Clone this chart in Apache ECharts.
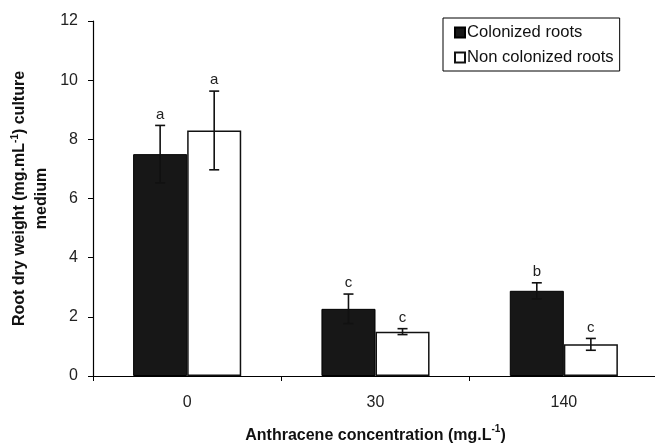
<!DOCTYPE html>
<html>
<head>
<meta charset="utf-8">
<script src="https://cdn.jsdelivr.net/npm/echarts@6/dist/echarts.min.js"></script>
<style>html,body{margin:0;padding:0;background:#fff;}#c{width:655px;height:443px;}</style>
</head>
<body>
<div id="c"></div>
<script>
const categories = ['0', '30', '140'];
const colonized = [7.5, 2.27, 2.88];
const nonColonized = [8.3, 1.5, 1.07];
const colonizedErr = [0.97, 0.5, 0.27];
const nonColonizedErr = [1.33, 0.1, 0.2];
const colonizedLetters = ['a', 'c', 'b'];
const nonColonizedLetters = ['a', 'c', 'c'];
const yTicks = [0, 2, 4, 6, 8, 10, 12];

const FONT = '"Liberation Sans", Arial, Helvetica, sans-serif';
const BAR_FRAC = 0.287;

function errSeries(values, errs, letters, side) {
  return {
    type: 'custom',
    z: 5,
    silent: true,
    encode: { x: 0, y: 1 },
    data: values.map((v, i) => [i, v, errs[i]]),
    renderItem: function (params, api) {
      const idx = api.value(0);
      const v = api.value(1);
      const e = api.value(2);
      const letter = letters[idx];
      const bw = api.size([1, 0])[0] * BAR_FRAC;
      const cx = api.coord([idx, v])[0] + side * bw / 2;
      const yTop = api.coord([idx, v + e])[1];
      const yBot = api.coord([idx, v - e])[1];
      const cap = 5;
      const st = { stroke: '#111', lineWidth: 1.6 };
      return {
        type: 'group',
        children: [
          { type: 'line', shape: { x1: cx, y1: yTop, x2: cx, y2: yBot }, style: st },
          { type: 'line', shape: { x1: cx - cap, y1: yTop, x2: cx + cap, y2: yTop }, style: st },
          { type: 'line', shape: { x1: cx - cap, y1: yBot, x2: cx + cap, y2: yBot }, style: st },
          { type: 'text', style: { text: letter, x: cx, y: yTop - 11, align: 'center', verticalAlign: 'middle', font: '15px ' + FONT, fill: '#222' } }
        ]
      };
    }
  };
}

const chart = echarts.init(document.getElementById('c'), null, { renderer: 'canvas' });
chart.setOption({
  animation: false,
  backgroundColor: '#fff',
  textStyle: { fontFamily: FONT },
  grid: { left: 93, right: -3, top: 21, bottom: 67, containLabel: false, outerBoundsMode: 'none' },
  legend: {
    left: 443, top: 18, orient: 'vertical',
    data: ['Colonized roots', 'Non colonized roots'],
    icon: 'rect', itemWidth: 10, itemHeight: 10, itemGap: 8,
    padding: [6, 6, 5, 11],
    borderColor: '#000', borderWidth: 1, backgroundColor: '#fff',
    textStyle: { fontFamily: FONT, fontSize: 16.6, color: '#111', lineHeight: 17, padding: [0, 0, 0, -3] }
  },
  xAxis: {
    type: 'category',
    data: categories,
    axisLine: { lineStyle: { color: '#000', width: 1.2 } },
    axisTick: { show: true, length: 5, lineStyle: { color: '#000' } },
    axisLabel: { fontFamily: FONT, fontSize: 16, color: '#222', margin: 19 },
    name: '{b|Anthracene concentration (mg.L}{s|-1}{b|)}',
    nameLocation: 'middle',
    nameGap: 48,
    nameTextStyle: {
      rich: {
        b: { fontFamily: FONT, fontSize: 16, fontWeight: 'bold', color: '#111', verticalAlign: 'bottom', lineHeight: 20 },
        s: { fontFamily: FONT, fontSize: 10, fontWeight: 'bold', color: '#111', verticalAlign: 'top', lineHeight: 20, padding: [0, 0, 8, 0] }
      }
    }
  },
  yAxis: {
    type: 'value',
    min: 0, max: 12, interval: 2,
    axisLine: { show: true, lineStyle: { color: '#000', width: 1.2 } },
    axisTick: { show: true, length: 5, lineStyle: { color: '#000' } },
    splitLine: { show: false },
    axisLabel: { fontFamily: FONT, fontSize: 16, color: '#222', margin: 15,
      formatter: function (v) { return yTicks.indexOf(v) >= 0 ? String(v) : ''; } },
    name: '{b|Root dry weight (mg.mL}{s|-1}{b|) culture}\n{b|medium}',
    nameLocation: 'middle',
    nameGap: 34,
    nameTextStyle: {
      rich: {
        b: { fontFamily: FONT, fontSize: 16, fontWeight: 'bold', color: '#111', lineHeight: 22 },
        s: { fontFamily: FONT, fontSize: 10, fontWeight: 'bold', color: '#111', lineHeight: 22, padding: [0, 0, 8, 0] }
      }
    }
  },
  series: [
    {
      name: 'Colonized roots', type: 'bar', data: colonized,
      barWidth: (BAR_FRAC * 100) + '%', barGap: '0%',
      itemStyle: { color: '#171717', borderColor: '#000', borderWidth: 1 }
    },
    {
      name: 'Non colonized roots', type: 'bar', data: nonColonized,
      barWidth: (BAR_FRAC * 100) + '%', barGap: '0%',
      itemStyle: { color: '#fff', borderColor: '#111', borderWidth: 1.5 }
    },
    errSeries(colonized, colonizedErr, colonizedLetters, -1),
    errSeries(nonColonized, nonColonizedErr, nonColonizedLetters, 1)
  ]
});
</script>
</body>
</html>
